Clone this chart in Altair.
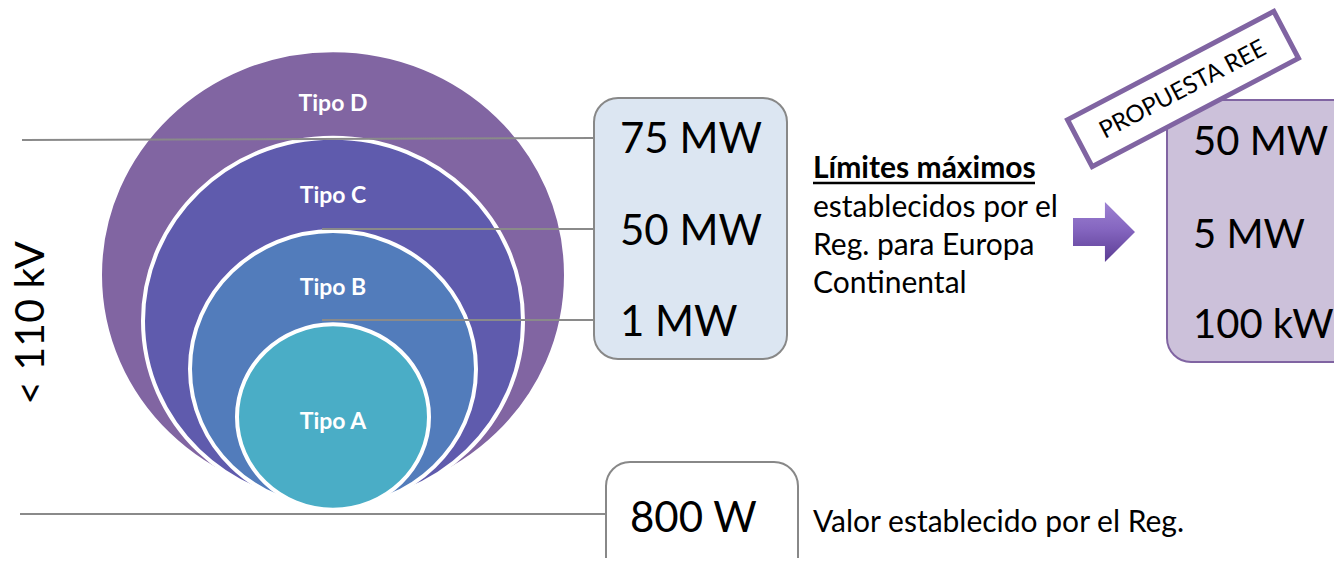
import altair as alt
import pandas as pd

# ---------------- content ----------------
tipos = ["Tipo D", "Tipo C", "Tipo B", "Tipo A"]
tipo_colors = ["#8165a2", "#5f5bad", "#527cbb", "#4aadc6"]
reg_limits = ["75 MW", "50 MW", "1 MW"]
ree_limits = ["50 MW", "5 MW", "100 kW"]
min_value = ["800 W"]
voltage_label = ["< 110 kV"]
badge_label = ["PROPUESTA REE"]
note_title = ["Límites máximos"]
note_lines = ["establecidos por el", "Reg. para Europa", "Continental"]
min_note = ["Valor establecido por el Reg."]

# ---------------- layout (pixels) ----------------
W, H, M = 1342, 566, 8
PW, PH = W - 2 * M, H - 2 * M
FONT = "Lato"

ell_cx = [333, 333, 333, 333]
ell_cy = [275, 321, 369, 417]
ell_rx = [233, 190, 143, 96]
tipo_label_y = [104, 196, 288, 422]
ASPECT = 0.965
k = 0.5523
ay = ASPECT
ellipse_path = (
    f"M 1 0 C 1 {k*ay:.4f} {k} {ay} 0 {ay} "
    f"C {-k} {ay} -1 {k*ay:.4f} -1 0 "
    f"C -1 {-k*ay:.4f} {-k} {-ay} 0 {-ay} "
    f"C {k} {-ay} 1 {-k*ay:.4f} 1 0 Z"
)

xs = alt.Scale(domain=[M, M + PW], range=[0, PW], nice=False, zero=False)
ys = alt.Scale(domain=[M, M + PH], range=[0, PH], nice=False, zero=False)


def X(f="x"):
    return alt.X(f"{f}:Q", scale=xs, axis=None)


def Y(f="y"):
    return alt.Y(f"{f}:Q", scale=ys, axis=None)


# ellipses
ell_df = pd.DataFrame({
    "tipo": tipos, "color": tipo_colors, "x": ell_cx, "y": ell_cy,
    "size": [4 * r * r for r in ell_rx], "order": [0, 1, 2, 3],
})
ellipses = alt.Chart(ell_df).mark_point(
    shape=ellipse_path, filled=True, opacity=1, stroke="white", strokeWidth=4
).encode(
    x=X(), y=Y(), size=alt.Size("size:Q", scale=None, legend=None),
    color=alt.Color("color:N", scale=None), order="order:Q"
)

tipo_df = pd.DataFrame({"t": tipos, "x": ell_cx, "y": tipo_label_y})
tipo_text = alt.Chart(tipo_df).mark_text(
    font=FONT, fontSize=23, fontWeight="bold", color="white",
    align="center", baseline="middle"
).encode(x=X(), y=Y(), text="t:N")

# connector lines
line_df = pd.DataFrame({
    "x": [22, 322, 322, 20], "x2": [595, 595, 595, 607],
    "y": [140, 229, 320, 514], "y2": [138, 229, 320, 514],
})
lines = alt.Chart(line_df).mark_rule(color="#8a8a8a", strokeWidth=2).encode(
    x=X(), x2="x2:Q", y=Y(), y2="y2:Q"
)

# boxes
box_df = pd.DataFrame({
    "x": [594, 1167, 606], "x2": [787, 1380, 798],
    "y": [98, 100, 462], "y2": [359, 362, 600],
    "fill": ["#dce6f2", "#ccc1da", "#ffffff"],
    "stroke": ["#888888", "#8064a2", "#888888"],
})
boxes = alt.Chart(box_df).mark_rect(cornerRadius=24, strokeWidth=2).encode(
    x=X(), x2="x2:Q", y=Y(), y2="y2:Q",
    fill=alt.Fill("fill:N", scale=None), stroke=alt.Stroke("stroke:N", scale=None)
)

big_df = pd.DataFrame({
    "t": reg_limits + min_value,
    "x": [620, 620, 620, 630],
    "y": [153, 245, 336, 532],
})
big_text = alt.Chart(big_df).mark_text(
    font=FONT, fontSize=42, color="black", align="left", baseline="alphabetic"
).encode(x=X(), y=Y(), text="t:N")

ree_df = pd.DataFrame({
    "t": ree_limits,
    "x": [1193, 1193, 1193],
    "y": [155, 248, 338],
})
ree_text = alt.Chart(ree_df).mark_text(
    font=FONT, fontSize=40, color="black", align="left", baseline="alphabetic"
).encode(x=X(), y=Y(), text="t:N")

# notes
title_df = pd.DataFrame({"t": note_title, "x": [813], "y": [178]})
title_text = alt.Chart(title_df).mark_text(
    font=FONT, fontSize=30, fontWeight="bold", color="black",
    align="left", baseline="alphabetic"
).encode(x=X(), y=Y(), text="t:N")
underline_df = pd.DataFrame({"x": [813], "x2": [1035], "y": [183]})
underline = alt.Chart(underline_df).mark_rule(color="black", strokeWidth=2.5).encode(
    x=X(), x2="x2:Q", y=Y()
)
note_df = pd.DataFrame({
    "t": note_lines + min_note,
    "x": [813, 813, 813, 813],
    "y": [217, 255, 293, 532],
})
note_text = alt.Chart(note_df).mark_text(
    font=FONT, fontSize=30, color="black", align="left", baseline="alphabetic"
).encode(x=X(), y=Y(), text="t:N")

# voltage label (vertical)
volt_df = pd.DataFrame({"t": voltage_label, "x": [32], "y": [323]})
volt_text = alt.Chart(volt_df).mark_text(
    font=FONT, fontSize=41, color="black", angle=270,
    align="center", baseline="middle"
).encode(x=X(), y=Y(), text="t:N")

# arrow (bevelled block arrow)
arrow_path = "M -1 -0.45 L 0.03 -0.45 L 0.03 -0.97 L 1 0 L 0.03 0.97 L 0.03 0.45 L -1 0.45 Z"
arrow_df = pd.DataFrame({"x": [1104], "y": [232], "size": [4 * 31 * 31]})
arrow = alt.Chart(arrow_df).mark_point(
    shape=arrow_path, filled=True, opacity=1,
    fill=alt.Gradient(
        gradient="linear", x1=0, y1=0, x2=0, y2=1,
        stops=[alt.GradientStop(offset=0, color="#9d82d2"),
               alt.GradientStop(offset=0.45, color="#8566c0"),
               alt.GradientStop(offset=1, color="#5b3c93")],
    ),
).encode(x=X(), y=Y(), size=alt.Size("size:Q", scale=None, legend=None))

# rotated badge
badge_ratio = 53 / 233
badge_path = (f"M -1 {-badge_ratio:.4f} L 1 {-badge_ratio:.4f} "
              f"L 1 {badge_ratio:.4f} L -1 {badge_ratio:.4f} Z")
badge_df = pd.DataFrame({"x": [1183], "y": [89], "size": [233 * 233]})
badge = alt.Chart(badge_df).mark_point(
    shape=badge_path, filled=True, opacity=1, fill="white",
    stroke="#8064a2", strokeWidth=5, angle=332.3
).encode(x=X(), y=Y(), size=alt.Size("size:Q", scale=None, legend=None))
badge_text_df = pd.DataFrame({"t": badge_label, "x": [1183], "y": [90]})
badge_text = alt.Chart(badge_text_df).mark_text(
    font=FONT, fontSize=24, color="black", angle=332.3,
    align="center", baseline="middle"
).encode(x=X(), y=Y(), text="t:N")

chart = alt.layer(
    ellipses, lines, tipo_text, boxes, big_text, ree_text, title_text,
    underline, note_text, volt_text, arrow, badge, badge_text
).properties(
    width=PW, height=PH, padding=0, autosize="none",
    background="white"
).configure_view(stroke=None)

chart.save("out.html", embed_options={"renderer": "svg", "actions": False})
